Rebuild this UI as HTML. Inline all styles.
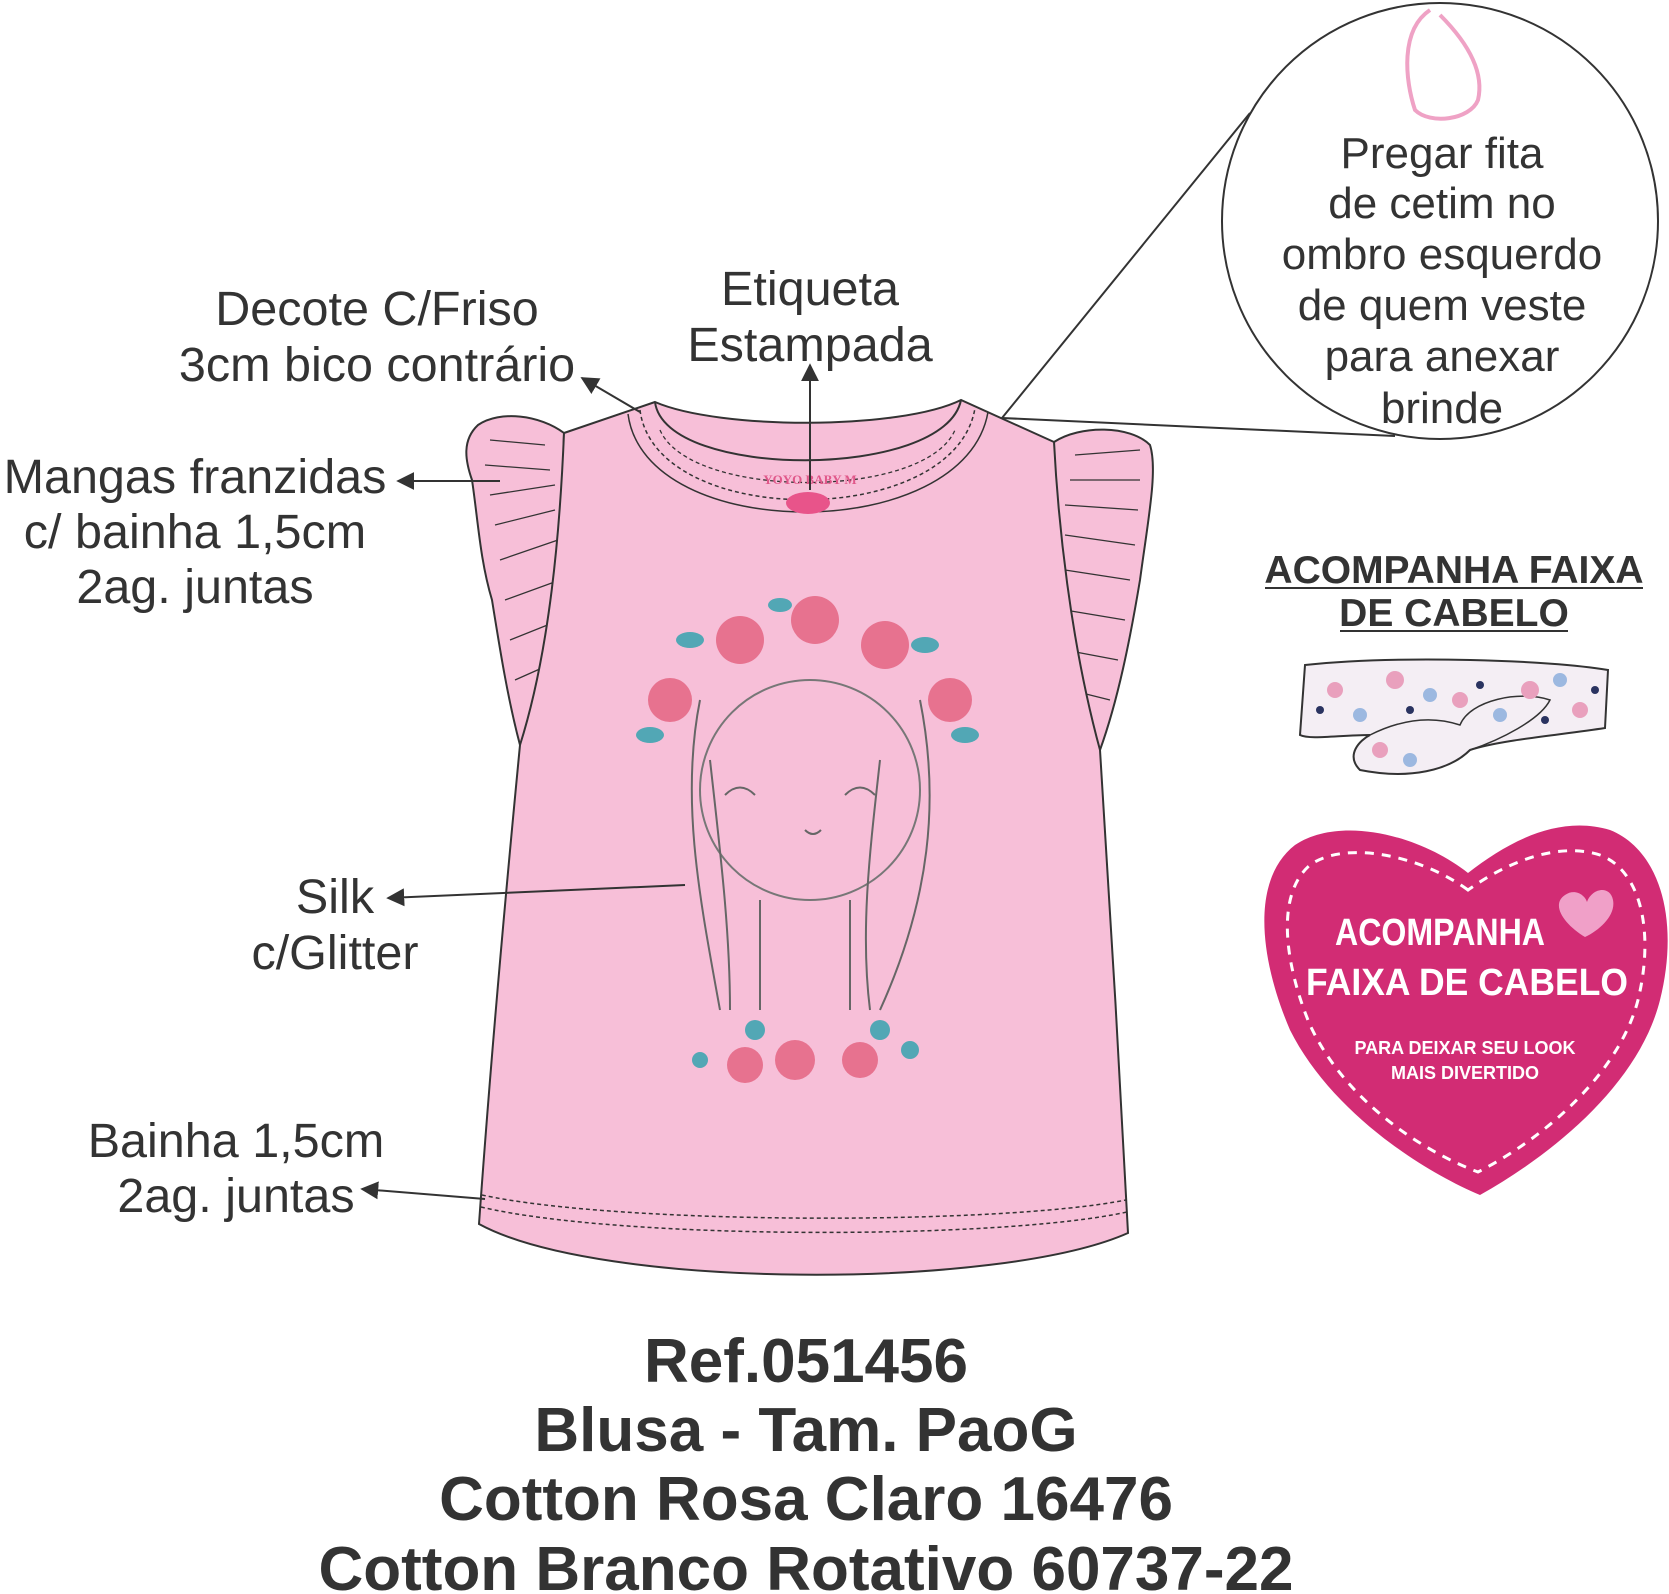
<!DOCTYPE html>
<html><head><meta charset="utf-8"><style>
html,body{margin:0;padding:0;background:#fff;}
svg{display:block;}
text{font-family:"Liberation Sans",Arial,sans-serif;fill:#333;}
</style></head><body>
<svg width="1669" height="1594" viewBox="0 0 1669 1594" xmlns="http://www.w3.org/2000/svg">
<defs>
<marker id="ar" viewBox="0 0 10 10" refX="9" refY="5" markerWidth="9" markerHeight="9" orient="auto-start-reverse"><path d="M0,0 L10,5 L0,10 z" fill="#333"/></marker>
</defs>
<!-- sleeves -->
<path d="M564,433 C540,415 500,410 478,425 C462,440 465,460 472,480 C478,520 480,560 492,600 C500,650 508,700 520,745 C540,700 560,600 564,433 Z" fill="#f7bfd8" stroke="#333" stroke-width="2"/>
<path d="M1054,442 C1080,425 1130,425 1150,445 C1158,470 1148,520 1140,580 C1130,640 1118,700 1100,750 C1080,700 1055,600 1054,442 Z" fill="#f7bfd8" stroke="#333" stroke-width="2"/>
<g stroke="#333" stroke-width="1.3" fill="none">
<path d="M490,440 L545,445 M485,465 L550,470 M490,495 L555,485 M495,525 L555,510 M500,560 L558,540 M505,600 L560,580 M510,640 L560,620 M515,680 L560,660"/>
<path d="M1140,450 L1075,455 M1140,480 L1070,480 M1138,510 L1065,505 M1135,545 L1065,535 M1130,580 L1065,570 M1125,620 L1065,610 M1118,660 L1065,650 M1110,700 L1070,690"/>
</g>
<!-- body -->
<path d="M564,433 L655,402 C720,430 900,430 961,400 L1054,442 C1058,520 1070,640 1100,750 C1110,900 1120,1080 1128,1233 C1000,1290 600,1290 479,1224 C490,1070 505,900 520,745 C550,650 560,530 564,433 Z" fill="#f7bfd8" stroke="#333" stroke-width="2"/>
<!-- neckline ribs -->
<path d="M655,402 C665,480 945,480 961,400" fill="none" stroke="#333" stroke-width="2"/>
<path d="M640,410 C655,530 955,530 975,408" fill="none" stroke="#333" stroke-width="1.5" stroke-dasharray="4,3"/>
<path d="M628,414 C645,545 965,545 988,412" fill="none" stroke="#333" stroke-width="1.5"/>
<path d="M660,430 C690,500 925,500 955,430" fill="none" stroke="#333" stroke-width="1.3" stroke-dasharray="4,3"/>
<!-- hem stitches -->
<path d="M482,1195 C620,1225 1000,1225 1126,1200" fill="none" stroke="#333" stroke-width="1.5" stroke-dasharray="4,3"/>
<path d="M481,1207 C620,1240 1000,1240 1127,1212" fill="none" stroke="#333" stroke-width="1.5" stroke-dasharray="4,3"/>
<!-- label -->
<text x="810" y="484" font-size="13" text-anchor="middle" style="fill:#e0588a;font-family:'Liberation Serif',serif;font-weight:bold">YOYO BABY M</text>
<ellipse cx="808" cy="503" rx="22" ry="11" fill="#e8548a"/>
<!-- girl print -->
<g fill="none" stroke="#666" stroke-width="2">
<circle cx="810" cy="790" r="110" stroke="#777"/>
<path d="M700,700 C680,800 700,900 720,1010 M920,700 C940,800 930,900 880,1010"/>
<path d="M710,760 C720,850 730,930 730,1010 M880,760 C870,850 860,930 870,1010"/>
<path d="M725,795 q15,-15 30,0 M845,795 q15,-15 30,0 M805,830 q8,8 16,0"/>
<path d="M760,900 L760,1010 M850,900 L850,1010"/>
</g>
<g>
<circle cx="670" cy="700" r="22" fill="#e7728f"/><circle cx="740" cy="640" r="24" fill="#e7728f"/><circle cx="815" cy="620" r="24" fill="#e7728f"/><circle cx="885" cy="645" r="24" fill="#e7728f"/><circle cx="950" cy="700" r="22" fill="#e7728f"/>
<ellipse cx="690" cy="640" rx="14" ry="8" fill="#52a7b5"/><ellipse cx="925" cy="645" rx="14" ry="8" fill="#52a7b5"/><ellipse cx="650" cy="735" rx="14" ry="8" fill="#52a7b5"/><ellipse cx="965" cy="735" rx="14" ry="8" fill="#52a7b5"/><ellipse cx="780" cy="605" rx="12" ry="7" fill="#52a7b5"/>
<circle cx="745" cy="1065" r="18" fill="#e7728f"/><circle cx="795" cy="1060" r="20" fill="#e7728f"/><circle cx="860" cy="1060" r="18" fill="#e7728f"/><circle cx="755" cy="1030" r="10" fill="#52a7b5"/><circle cx="880" cy="1030" r="10" fill="#52a7b5"/><circle cx="700" cy="1060" r="8" fill="#52a7b5"/><circle cx="910" cy="1050" r="9" fill="#52a7b5"/>
</g>
<!-- callout lines -->
<g stroke="#333" stroke-width="2" fill="none">
<line x1="640" y1="412" x2="582" y2="378" marker-end="url(#ar)"/>
<line x1="810" y1="490" x2="810" y2="365" marker-end="url(#ar)"/>
<line x1="500" y1="481" x2="398" y2="481" marker-end="url(#ar)"/>
<line x1="685" y1="885" x2="388" y2="898" marker-end="url(#ar)"/>
<line x1="485" y1="1199" x2="362" y2="1189" marker-end="url(#ar)"/>
<line x1="1002" y1="418" x2="1250" y2="113"/>
<line x1="1002" y1="418" x2="1395" y2="436"/>
</g>
<!-- circle -->
<circle cx="1440" cy="221" r="218" fill="#fff" stroke="#333" stroke-width="2"/>
<path d="M1430,10 C1400,30 1405,80 1415,110 C1430,125 1470,120 1478,100 C1485,70 1465,40 1440,15" fill="none" stroke="#efa2c5" stroke-width="4"/>
<g font-size="44" text-anchor="middle">
<text x="1442" y="168">Pregar fita</text>
<text x="1442" y="218">de cetim no</text>
<text x="1442" y="269">ombro esquerdo</text>
<text x="1442" y="320">de quem veste</text>
<text x="1442" y="371">para anexar</text>
<text x="1442" y="423">brinde</text>
</g>
<!-- labels -->
<g font-size="48.5" text-anchor="middle">
<text x="377" y="325">Decote C/Friso</text>
<text x="377" y="381">3cm bico contrário</text>
<text x="810" y="305">Etiqueta</text>
<text x="810" y="361">Estampada</text>
<text x="195" y="493">Mangas franzidas</text>
<text x="195" y="548">c/ bainha 1,5cm</text>
<text x="195" y="603">2ag. juntas</text>
<text x="335" y="913">Silk</text>
<text x="335" y="969">c/Glitter</text>
<text x="236" y="1157">Bainha 1,5cm</text>
<text x="236" y="1212">2ag. juntas</text>
</g>
<g font-size="39" font-weight="bold" text-anchor="middle">
<text x="1454" y="583">ACOMPANHA FAIXA</text>
<text x="1454" y="626">DE CABELO</text>
</g>
<line x1="1265" y1="588" x2="1643" y2="588" stroke="#333" stroke-width="2"/>
<line x1="1340" y1="631" x2="1568" y2="631" stroke="#333" stroke-width="2"/>
<!-- headband -->
<path d="M1305,665 C1400,655 1550,660 1608,670 L1605,728 C1560,735 1500,740 1470,750 C1450,770 1410,780 1360,770 C1345,755 1360,740 1370,735 C1340,735 1310,740 1300,735 Z" fill="#f4eef4" stroke="#333" stroke-width="2"/>
<path d="M1370,735 C1400,720 1430,715 1460,725 C1470,700 1520,690 1550,700 C1540,720 1500,740 1470,750" fill="none" stroke="#333" stroke-width="1.5"/>
<g fill="#e9a0bd"><circle cx="1335" cy="690" r="8"/><circle cx="1395" cy="680" r="9"/><circle cx="1460" cy="700" r="8"/><circle cx="1530" cy="690" r="9"/><circle cx="1580" cy="710" r="8"/><circle cx="1380" cy="750" r="8"/></g>
<g fill="#9cb8e0"><circle cx="1360" cy="715" r="7"/><circle cx="1430" cy="695" r="7"/><circle cx="1500" cy="715" r="7"/><circle cx="1560" cy="680" r="7"/><circle cx="1410" cy="760" r="7"/></g>
<g fill="#2a3360"><circle cx="1320" cy="710" r="4"/><circle cx="1410" cy="710" r="4"/><circle cx="1480" cy="685" r="4"/><circle cx="1545" cy="720" r="4"/><circle cx="1595" cy="690" r="4"/></g>
<!-- heart -->
<path d="M1468,873 C1420,835 1340,815 1295,845 C1250,880 1260,960 1290,1030 C1330,1110 1420,1170 1480,1195 C1560,1150 1640,1080 1660,1000 C1680,920 1660,850 1610,830 C1560,815 1510,840 1468,873 Z" fill="#d22c74"/>
<path d="M1468,890 C1420,855 1345,840 1310,865 C1275,895 1285,965 1310,1025 C1345,1100 1420,1150 1478,1172 C1550,1135 1620,1070 1638,1000 C1655,930 1640,870 1600,855 C1560,842 1510,860 1468,890 Z" fill="none" stroke="#fff" stroke-width="3" stroke-dasharray="9,8"/>
<path d="M1585,937 C1565,925 1550,905 1565,895 C1575,888 1585,895 1587,902 C1592,888 1610,885 1613,900 C1616,915 1600,930 1585,937 Z" fill="#f0a0c8"/>
<g text-anchor="middle" font-weight="bold">
<text x="1440" y="945" font-size="38" style="fill:#fff" textLength="210" lengthAdjust="spacingAndGlyphs">ACOMPANHA</text>
<text x="1467" y="995" font-size="38" style="fill:#fff" textLength="322" lengthAdjust="spacingAndGlyphs">FAIXA DE CABELO</text>
<text x="1465" y="1054" font-size="18" style="fill:#fff">PARA DEIXAR SEU LOOK</text>
<text x="1465" y="1079" font-size="18" style="fill:#fff">MAIS DIVERTIDO</text>
</g>
<!-- bottom -->
<g font-size="62" font-weight="bold" text-anchor="middle">
<text x="806" y="1382">Ref.051456</text>
<text x="806" y="1451">Blusa - Tam. PaoG</text>
<text x="806" y="1520">Cotton Rosa Claro 16476</text>
<text x="806" y="1590">Cotton Branco Rotativo 60737-22</text>
</g>
</svg>
</body></html>
